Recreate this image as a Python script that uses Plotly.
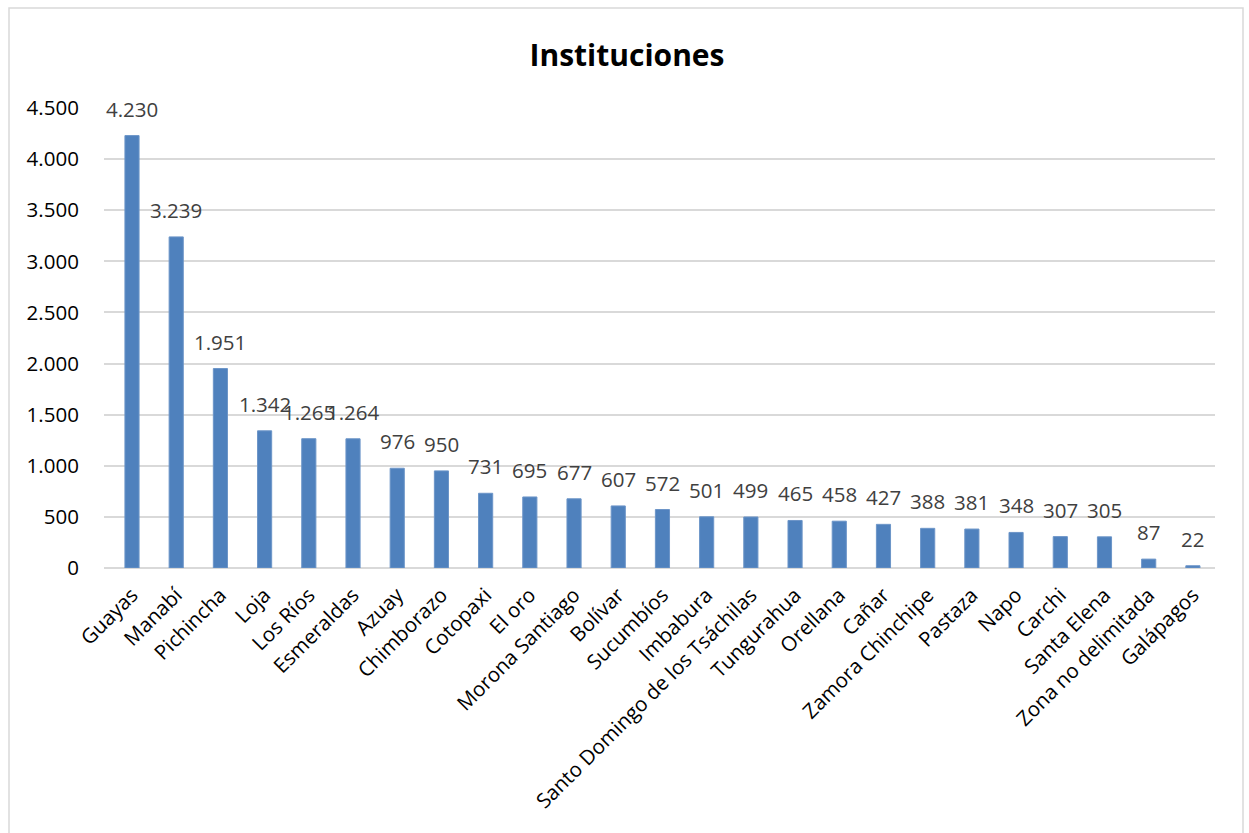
import plotly.graph_objects as go

provincias = [
    "Guayas", "Manabí", "Pichincha", "Loja", "Los Ríos", "Esmeraldas", "Azuay",
    "Chimborazo", "Cotopaxi", "El oro", "Morona Santiago", "Bolívar", "Sucumbíos",
    "Imbabura", "Santo Domingo de los Tsáchilas", "Tungurahua", "Orellana", "Cañar",
    "Zamora Chinchipe", "Pastaza", "Napo", "Carchi", "Santa Elena",
    "Zona no delimitada", "Galápagos",
]
instituciones = [
    4230, 3239, 1951, 1342, 1265, 1264, 976, 950, 731, 695, 677, 607, 572,
    501, 499, 465, 458, 427, 388, 381, 348, 307, 305, 87, 22,
]
y_ticks = [0, 500, 1000, 1500, 2000, 2500, 3000, 3500, 4000, 4500]


def miles(v):
    return f"{v:,}".replace(",", ".")


FONT = "Open Sans, Liberation Sans, sans-serif"

fig = go.Figure(
    go.Bar(
        x=provincias,
        y=instituciones,
        marker=dict(color="#4F81BD", line=dict(color="#6C95C8", width=1)),
        width=0.32,
        hoverinfo="x+y",
    )
)

# value labels above each bar
for p, v in zip(provincias, instituciones):
    fig.add_annotation(
        x=p, y=v, text=miles(v), showarrow=False,
        yanchor="bottom", yshift=11,
        font=dict(family=FONT, size=20.5, color="#404040"),
    )

W, H = 1249, 833
ml, mr, mt, mb = 104, 34, 108, 265
pw, ph = W - ml - mr, H - mt - mb


def px_x(x):
    return (x - ml) / pw


def px_y(y):
    return (H - y - mb) / ph


# outer chart frame
fig.add_shape(
    type="rect", xref="paper", yref="paper",
    x0=px_x(9), x1=px_x(1243), y0=px_y(860), y1=px_y(8),
    line=dict(color="#D9D9D9", width=1.5), fillcolor="rgba(0,0,0,0)", layer="below",
)

fig.update_layout(
    width=W, height=H,
    margin=dict(l=ml, r=mr, t=mt, b=mb),
    paper_bgcolor="white", plot_bgcolor="white",
    separators=",.",
    showlegend=False,
    title=dict(
        text="<b>Instituciones</b>", x=px_x(627), xref="paper", xanchor="center",
        y=1 - 55 / H, yanchor="middle",
        font=dict(family=FONT, size=30, color="black"),
    ),
    bargap=0.68,
)
fig.update_xaxes(
    tickangle=-45,
    tickfont=dict(family=FONT, size=20.5, color="black"),
    showgrid=False, showline=False, ticks="outside", ticklen=6,
    tickcolor="rgba(0,0,0,0)",
)
fig.update_yaxes(
    range=[0, 4500],
    tickvals=y_ticks, ticktext=[miles(t) for t in y_ticks],
    tickfont=dict(family=FONT, size=20.5, color="black"),
    showgrid=True, gridcolor="#D9D9D9", gridwidth=1.5,
    zeroline=True, zerolinecolor="#D9D9D9", zerolinewidth=1.5,
    showline=False, ticks="outside", ticklen=20, tickcolor="rgba(0,0,0,0)",
)

fig.write_html("out.html")
